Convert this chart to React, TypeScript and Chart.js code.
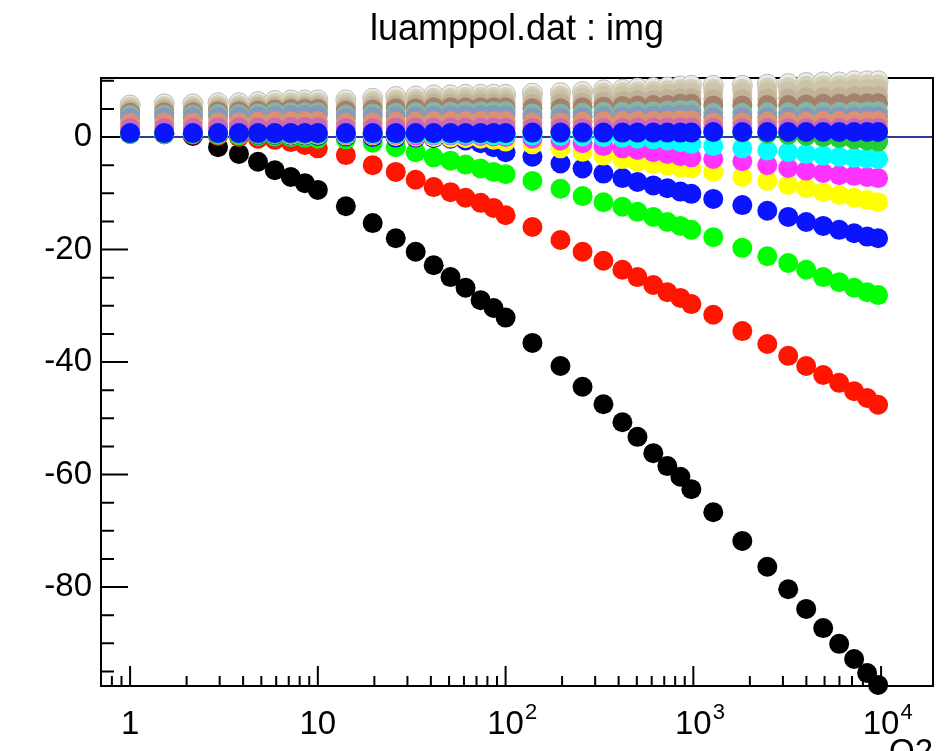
import { useEffect, useRef } from 'react';
import { Chart, registerables } from 'chart.js';

Chart.register(...registerables);

const TITLE = 'luamppol.dat : img';
const X_TITLE = 'Q2';

const Q2 = [1, 1.52, 2.16, 2.94, 3.8, 4.8, 5.9, 7.18, 8.53, 10, 14.1, 19.6, 26, 33.2, 41.4, 50.9, 61.2, 73.6, 86.3, 100, 139, 196, 257, 332, 419, 504, 612, 727, 853, 976, 1277, 1823, 2477, 3201, 3990, 4915, 5979, 7184, 8427, 9640];

const BLACK = [0.6, 0.5, 0.2, -1.8, -3.0, -4.4, -5.9, -7.1, -8.2, -9.4, -12.3, -15.3, -18.0, -20.4, -22.8, -24.9, -26.8, -29.0, -30.4, -32.1, -36.6, -40.7, -44.4, -47.5, -50.7, -53.3, -56.2, -58.5, -60.4, -62.6, -66.7, -71.8, -76.4, -80.4, -83.9, -87.3, -90.1, -92.8, -95.3, -97.4];
const RED = [0.6, 0.5, 0.4, 0.2, 0.0, -0.3, -0.5, -0.9, -1.4, -2.0, -3.2, -5.0, -6.2, -7.6, -8.9, -9.8, -10.8, -11.7, -12.6, -13.9, -16.0, -18.3, -20.4, -22.0, -23.6, -24.9, -26.3, -27.6, -28.6, -29.7, -31.6, -34.5, -36.8, -38.9, -40.7, -42.3, -43.7, -45.2, -46.4, -47.6];
const GREEN = [0.6, 0.5, 0.5, 0.4, 0.3, 0.2, 0.1, 0.0, -0.1, -0.3, -0.4, -1.0, -1.8, -2.7, -3.6, -4.2, -4.9, -5.6, -6.2, -6.6, -7.8, -9.2, -10.5, -11.6, -12.4, -13.3, -14.2, -15.1, -15.8, -16.5, -17.8, -19.7, -21.2, -22.4, -23.6, -24.9, -25.8, -26.8, -27.6, -28.1];
const BLUE = [0.6, 0.6, 0.5, 0.5, 0.5, 0.4, 0.4, 0.3, 0.3, 0.2, 0.1, 0.0, -0.1, -0.1, -0.2, -0.3, -0.6, -1.1, -1.8, -2.7, -3.5, -4.7, -5.6, -6.5, -7.3, -8.0, -8.6, -9.1, -9.7, -10.1, -11.0, -12.1, -13.1, -14.2, -15.1, -15.8, -16.5, -17.1, -17.7, -18.0];
const YELLOW = [0.6, 0.6, 0.6, 0.5, 0.5, 0.5, 0.5, 0.4, 0.4, 0.4, 0.3, 0.3, 0.2, 0.1, 0.0, -0.1, -0.2, -0.3, -0.5, -0.8, -1.3, -2.0, -2.6, -3.3, -3.9, -4.4, -4.8, -5.1, -5.4, -5.6, -6.2, -7.1, -7.8, -8.5, -9.1, -9.8, -10.3, -10.8, -11.2, -11.6];
const MAGENTA = [0.6, 0.6, 0.6, 0.6, 0.5, 0.5, 0.5, 0.5, 0.5, 0.5, 0.4, 0.4, 0.4, 0.3, 0.3, 0.3, 0.2, 0.2, 0.1, 0.0, -0.3, -0.6, -1.1, -1.6, -2.0, -2.3, -2.7, -3.0, -3.4, -3.6, -3.9, -4.3, -5.0, -5.5, -6.0, -6.4, -6.8, -6.9, -7.1, -7.3];
const CYAN = [0.6, 0.6, 0.6, 0.6, 0.6, 0.6, 0.5, 0.5, 0.5, 0.5, 0.5, 0.5, 0.5, 0.5, 0.4, 0.4, 0.4, 0.4, 0.3, 0.3, 0.3, 0.2, 0.1, 0.0, -0.1, -0.3, -0.4, -0.6, -0.9, -1.2, -1.6, -2.0, -2.4, -2.7, -3.0, -3.3, -3.5, -3.7, -3.8, -3.9];
const DARK_GREEN = [0.6, 0.6, 0.6, 0.6, 0.6, 0.6, 0.6, 0.6, 0.6, 0.6, 0.7, 0.7, 0.7, 0.7, 0.7, 0.7, 0.7, 0.7, 0.7, 0.7, 0.8, 0.8, 0.8, 0.8, 0.8, 0.8, 0.9, 0.9, 0.9, 0.9, 0.9, 0.8, 0.6, 0.4, 0.2, 0.0, -0.2, -0.4, -0.6, -0.8];

const PALE_TOP = [5.7, 5.9, 5.9, 6.1, 6.1, 6.3, 6.5, 6.6, 6.6, 6.6, 6.6, 6.9, 7.2, 7.3, 7.5, 7.5, 7.6, 7.6, 7.6, 7.6, 7.8, 7.9, 8.1, 8.4, 8.5, 8.7, 8.8, 8.9, 9.1, 9.2, 9.2, 9.2, 9.4, 9.5, 9.7, 9.8, 9.8, 10.0, 10.0, 10.0];
const BEIGE_LIGHT = [5.4, 5.5, 5.5, 5.7, 5.7, 5.9, 6.1, 6.2, 6.2, 6.2, 6.2, 6.5, 6.7, 6.8, 7.0, 7.0, 7.1, 7.1, 7.1, 7.1, 7.3, 7.4, 7.6, 7.9, 8.0, 8.1, 8.2, 8.3, 8.5, 8.6, 8.6, 8.6, 8.8, 8.9, 9.1, 9.2, 9.2, 9.4, 9.4, 9.4];
const BEIGE = [5.0, 5.1, 5.1, 5.3, 5.3, 5.5, 5.6, 5.7, 5.7, 5.7, 5.7, 6.0, 6.2, 6.3, 6.5, 6.5, 6.6, 6.6, 6.6, 6.6, 6.8, 6.8, 7.0, 7.3, 7.3, 7.5, 7.6, 7.7, 7.9, 7.9, 8.0, 8.0, 8.1, 8.2, 8.4, 8.5, 8.5, 8.6, 8.6, 8.6];
const TAN = [4.7, 4.9, 4.9, 5.0, 5.0, 5.2, 5.3, 5.4, 5.4, 5.4, 5.2, 5.5, 5.7, 5.8, 5.9, 5.9, 6.0, 6.0, 6.0, 6.0, 5.9, 6.0, 6.1, 6.3, 6.4, 6.6, 6.6, 6.7, 6.9, 6.9, 6.7, 6.7, 6.9, 6.9, 7.1, 7.1, 7.1, 7.3, 7.3, 7.3];
const BROWN = [4.3, 4.4, 4.4, 4.6, 4.6, 4.7, 4.9, 5.0, 5.0, 5.0, 4.7, 4.9, 5.1, 5.1, 5.3, 5.3, 5.3, 5.3, 5.3, 5.3, 5.1, 5.1, 5.3, 5.4, 5.5, 5.6, 5.7, 5.7, 5.9, 5.9, 5.6, 5.6, 5.7, 5.7, 5.8, 5.9, 5.9, 6.0, 6.0, 6.0];
const TEAL = [3.9, 4.0, 4.0, 4.1, 4.1, 4.2, 4.4, 4.4, 4.4, 4.4, 4.0, 4.2, 4.3, 4.4, 4.5, 4.5, 4.6, 4.6, 4.6, 4.6, 4.2, 4.2, 4.3, 4.5, 4.5, 4.6, 4.6, 4.7, 4.8, 4.8, 4.3, 4.3, 4.4, 4.4, 4.5, 4.5, 4.5, 4.6, 4.6, 4.6];
const SLATE = [3.4, 3.5, 3.5, 3.6, 3.6, 3.7, 3.8, 3.9, 3.9, 3.9, 3.4, 3.6, 3.7, 3.7, 3.8, 3.8, 3.9, 3.9, 3.9, 3.9, 3.5, 3.5, 3.6, 3.7, 3.7, 3.8, 3.8, 3.9, 4.0, 4.0, 3.5, 3.5, 3.5, 3.6, 3.6, 3.7, 3.7, 3.7, 3.7, 3.7];
const SALMON = [2.5, 2.6, 2.6, 2.6, 2.6, 2.7, 2.8, 2.8, 2.8, 2.8, 2.5, 2.6, 2.7, 2.7, 2.8, 2.8, 2.8, 2.8, 2.8, 2.8, 2.6, 2.6, 2.7, 2.8, 2.8, 2.9, 2.9, 2.9, 3.0, 3.0, 2.6, 2.6, 2.7, 2.7, 2.7, 2.8, 2.8, 2.8, 2.8, 2.8];
const PINK = [1.6, 1.6, 1.6, 1.7, 1.7, 1.7, 1.7, 1.8, 1.8, 1.8, 1.6, 1.6, 1.7, 1.7, 1.7, 1.7, 1.7, 1.7, 1.7, 1.7, 1.6, 1.6, 1.6, 1.6, 1.6, 1.7, 1.7, 1.7, 1.7, 1.7, 1.6, 1.6, 1.6, 1.6, 1.6, 1.6, 1.6, 1.6, 1.6, 1.6];
const BLUE_FRONT = [0.7, 0.7, 0.7, 0.7, 0.7, 0.7, 0.7, 0.7, 0.7, 0.7, 0.7, 0.7, 0.7, 0.7, 0.7, 0.7, 0.7, 0.7, 0.7, 0.7, 0.8, 0.8, 0.8, 0.8, 0.8, 0.8, 0.8, 0.8, 0.8, 0.8, 0.9, 0.9, 0.9, 0.9, 0.9, 0.9, 0.9, 0.9, 0.9, 0.9];

// drawn in this order: first at the back, last in front
const SERIES = [
  { name: 'black', values: BLACK, color: '#000000' },
  { name: 'red', values: RED, color: '#ff1500' },
  { name: 'green', values: GREEN, color: '#00ff00' },
  { name: 'blue', values: BLUE, color: '#0a14ff' },
  { name: 'yellow', values: YELLOW, color: '#ffff00' },
  { name: 'magenta', values: MAGENTA, color: '#ff33ff' },
  { name: 'cyan', values: CYAN, color: '#00ffff' },
  { name: 'darkgreen', values: DARK_GREEN, color: '#22cc33' },
  { name: 'pale', values: PALE_TOP, color: '#ecebe6', border: '#b9b9b9' },
  { name: 'beigeLight', values: BEIGE_LIGHT, color: '#d5d0b8' },
  { name: 'beige', values: BEIGE, color: '#cbc4a8' },
  { name: 'tan', values: TAN, color: '#c2b29a' },
  { name: 'brown', values: BROWN, color: '#a5806c' },
  { name: 'teal', values: TEAL, color: '#84b7a3' },
  { name: 'slate', values: SLATE, color: '#8799bb' },
  { name: 'salmon', values: SALMON, color: '#dc9272' },
  { name: 'pink', values: PINK, color: '#c86ab8' },
  { name: 'blueFront', values: BLUE_FRONT, color: '#0a14ff' },
];

const X_MIN = 0.71;
const X_MAX = 18900;
const Y_MIN = -97.6;
const Y_MAX = 10.5;

const Y_LABELS = [0, -20, -40, -60, -80];
const Y_TICKS = [10, 5, 0, -5, -10, -15, -20, -25, -30, -35, -40, -45, -50, -55, -60, -65, -70, -75, -80, -85, -90, -95];
const X_LABELS = [
  { value: 1, base: '1', exp: '' },
  { value: 10, base: '10', exp: '' },
  { value: 100, base: '10', exp: '2' },
  { value: 1000, base: '10', exp: '3' },
  { value: 10000, base: '10', exp: '4' },
];
const X_TICKS = [0.8, 0.9, 1, 2, 3, 4, 5, 6, 7, 8, 9, 10, 20, 30, 40, 50, 60, 70, 80, 90, 100, 200, 300, 400, 500, 600, 700, 800, 900, 1000, 2000, 3000, 4000, 5000, 6000, 7000, 8000, 9000, 10000];
const X_MAJOR = [1, 10, 100, 1000, 10000];

const FONT = '"Liberation Sans", Arial, Helvetica, sans-serif';
const ZERO_LINE = '#2a3a9e';

const rootAxes = {
  id: 'rootAxes',
  beforeDatasetsDraw(chart: any) {
    const { ctx, chartArea: a, scales } = chart;
    const xs = scales.x;
    const ys = scales.y;
    ctx.save();
    const y0 = ys.getPixelForValue(0);
    ctx.strokeStyle = ZERO_LINE;
    ctx.lineWidth = 2;
    ctx.beginPath();
    ctx.moveTo(a.left, y0);
    ctx.lineTo(a.right, y0);
    ctx.stroke();

    ctx.strokeStyle = '#000';
    ctx.lineWidth = 2;
    ctx.strokeRect(a.left, a.top, a.right - a.left, a.bottom - a.top);
    ctx.beginPath();
    for (const v of Y_TICKS) {
      const p = ys.getPixelForValue(v);
      const len = v % 20 === 0 ? 27 : 13;
      ctx.moveTo(a.left, p);
      ctx.lineTo(a.left + len, p);
    }
    for (const v of X_TICKS) {
      const p = xs.getPixelForValue(v);
      if (p < a.left || p > a.right) continue;
      const len = X_MAJOR.includes(v) ? 20 : 10;
      ctx.moveTo(p, a.bottom);
      ctx.lineTo(p, a.bottom - len);
    }
    ctx.stroke();
    ctx.restore();
  },
  afterDraw(chart: any) {
    const { ctx, chartArea: a, scales } = chart;
    const xs = scales.x;
    const ys = scales.y;
    ctx.save();
    ctx.fillStyle = '#000';
    ctx.font = `33px ${FONT}`;
    ctx.textAlign = 'right';
    ctx.textBaseline = 'middle';
    for (const v of Y_LABELS) {
      ctx.fillText(String(v), a.left - 9, ys.getPixelForValue(v));
    }
    ctx.textBaseline = 'alphabetic';
    for (const l of X_LABELS) {
      const p = xs.getPixelForValue(l.value);
      ctx.font = `33px ${FONT}`;
      ctx.textAlign = 'center';
      const w = ctx.measureText(l.base).width;
      ctx.fillText(l.base, p, a.bottom + 48);
      if (l.exp) {
        ctx.font = `22px ${FONT}`;
        ctx.textAlign = 'left';
        ctx.fillText(l.exp, p + w / 2 + 1, a.bottom + 33);
      }
    }
    ctx.font = `33px ${FONT}`;
    ctx.textAlign = 'right';
    ctx.textBaseline = 'top';
    ctx.fillText(X_TITLE, a.right, a.bottom + 50);
    ctx.restore();
  },
};

export default function App() {
  const ref = useRef<HTMLCanvasElement | null>(null);
  useEffect(() => {
    document.body.style.margin = '0';
    const canvas = ref.current;
    if (!canvas) return;
    const n = SERIES.length;
    const chart = new Chart(canvas, {
      type: 'scatter',
      data: {
        datasets: SERIES.map((s, i) => ({
          label: s.name,
          data: Q2.map((x, j) => ({ x, y: s.values[j] })),
          backgroundColor: s.color,
          borderColor: (s as any).border || s.color,
          borderWidth: (s as any).border ? 1 : 0,
          pointRadius: 10,
          pointHoverRadius: 10,
          showLine: false,
          clip: false as any,
          order: n - i,
        })),
      },
      options: {
        animation: false,
        responsive: false,
        devicePixelRatio: 1,
        events: [],
        layout: { padding: { left: 101, right: 16, top: 0, bottom: 65 } },
        plugins: {
          legend: { display: false },
          tooltip: { enabled: false },
          title: {
            display: true,
            text: TITLE,
            color: '#000',
            font: { family: FONT, size: 36, weight: 'normal' as any, lineHeight: 1.2 },
            padding: { top: 8, bottom: 26.8 },
          },
        },
        scales: {
          x: { type: 'logarithmic', min: X_MIN, max: X_MAX, display: false },
          y: { type: 'linear', min: Y_MIN, max: Y_MAX, display: false },
        },
      },
      plugins: [rootAxes],
    });
    return () => chart.destroy();
  }, []);
  return (
    <div style={{ width: 949, height: 751, background: '#fff' }}>
      <canvas ref={ref} width={949} height={751} style={{ display: 'block' }} />
    </div>
  );
}
